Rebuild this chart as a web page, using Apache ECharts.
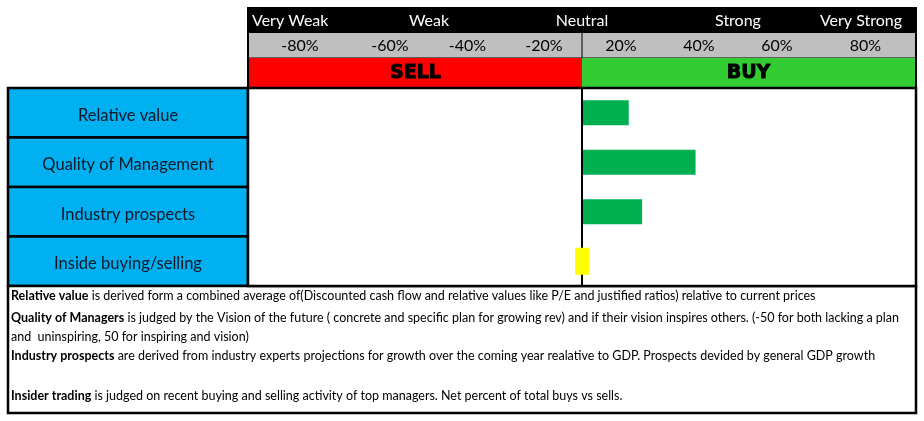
<!DOCTYPE html>
<html><head><meta charset="utf-8">
<script src="https://cdn.jsdelivr.net/npm/echarts@6/dist/echarts.min.js"></script>
<style>html,body{margin:0;padding:0;background:#fff}#c{width:924px;height:421px}</style>
</head><body><div id="c"></div>
<script>
// ---- data ----
const categories = ['Relative value', 'Quality of Management', 'Industry prospects', 'Inside buying/selling'];
const buyScores = [14, 34, 18, null];
const insiderScores = [null, null, null, 0];
const strengthLabels = ['Very Weak', 'Weak', 'Neutral', 'Strong', 'Very Strong'];
const percentLabels = ['-80%', '-60%', '-40%', '-20%', '20%', '40%', '60%', '80%'];
const signalLabels = ['SELL', 'BUY'];
const noteTerms = ['Relative value', 'Quality of Managers', 'Industry prospects', 'Insider trading'];
const noteTexts = [
  ' is derived form a combined average of(Discounted cash flow and relative values like P/E and justified ratios) relative to current prices',
  ' is judged by the Vision of the future ( concrete and specific plan for growing rev) and if their vision inspires others. (-50 for both lacking a plan\nand  uninspiring, 50 for inspiring and vision)',
  ' are derived from industry experts projections for growth over the coming year realative to GDP. Prospects devided by general GDP growth',
  ' is judged on recent buying and selling activity of top managers. Net percent of total buys vs sells.'
];

// ---- layout ----
const FONT = 'Lato, "Open Sans", sans-serif';
const G = { left: 248, top: 88, right: 916, bottom: 286 };
const x0 = (G.left + G.right) / 2;
const rowH = (G.bottom - G.top) / categories.length;
const headTop = 7;
const colBounds = [249, 351, 429, 506, x0, 660, 738, 816, 915];
const strengthPos = [[252, 'left'], [429, 'center'], [x0, 'center'], [738, 'center'], [861, 'center']];
const noteY = [296, 318, 356, 396];
const NOTE_LH = 19;

const graphics = [];
// header background
graphics.push({ type: 'rect', shape: { x: 247, y: headTop, width: G.right + 1 - 247, height: G.top + 1 - headTop }, style: { fill: '#000' }, z: 0 });
graphics.push({ type: 'rect', shape: { x: 249, y: 33, width: 915 - 249, height: 24.5 }, style: { fill: '#BFBFBF' }, z: 1 });
graphics.push({ type: 'rect', shape: { x: 249, y: 58, width: x0 - 249, height: 29 }, style: { fill: '#FF0000' }, z: 1 });
graphics.push({ type: 'rect', shape: { x: x0, y: 58, width: 915 - x0, height: 29 }, style: { fill: '#33CC33' }, z: 1 });
graphics.push({ type: 'line', shape: { x1: x0, y1: 33, x2: x0, y2: 58 }, style: { stroke: '#000', lineWidth: 1 }, z: 2 });
strengthLabels.forEach((t, i) => {
  graphics.push({ type: 'text', x: strengthPos[i][0], y: 20.5, z: 3,
    style: { text: t, fill: '#fff', font: '16px ' + FONT, align: strengthPos[i][1], verticalAlign: 'middle' } });
});
percentLabels.forEach((t, i) => {
  graphics.push({ type: 'text', x: (colBounds[i] + colBounds[i + 1]) / 2, y: 46, z: 3,
    style: { text: t, fill: '#000', font: '16px ' + FONT, align: 'center', verticalAlign: 'middle' } });
});
signalLabels.forEach((t, i) => {
  const cx = i === 0 ? (249 + x0) / 2 : (x0 + 915) / 2;
  graphics.push({ type: 'text', x: cx, y: 73, z: 3,
    style: { text: t, fill: '#000', stroke: '#000', lineWidth: 0.9,
      font: 'bold 19px "DejaVu Sans", sans-serif', align: 'center', verticalAlign: 'middle' } });
});
// category boxes
categories.forEach((c, i) => {
  graphics.push({ type: 'rect', z: 1, shape: { x: 8, y: G.top + i * rowH, width: G.left - 8, height: rowH },
    style: { fill: '#00B0F0', stroke: '#000', lineWidth: 2.5 } });
});
// notes box
graphics.push({ type: 'rect', z: 1, shape: { x: 8, y: G.bottom, width: G.right - 8, height: 413 - G.bottom },
  style: { fill: '#fff', stroke: '#000', lineWidth: 2.5 } });
noteTerms.forEach((term, i) => {
  graphics.push({ type: 'text', x: 11, y: noteY[i] - NOTE_LH / 2, z: 3,
    style: {
      text: '{b|' + term + '}{n|' + noteTexts[i].replace('\n', '}\n{n|') + '}',
      verticalAlign: 'top', align: 'left',
      rich: {
        b: { fontFamily: FONT, fontSize: 12.5, fontWeight: 'bold', fill: '#000', lineHeight: NOTE_LH },
        n: { fontFamily: FONT, fontSize: 12.5, fill: '#000', lineHeight: NOTE_LH }
      }
    } });
});

const chart = echarts.init(document.getElementById('c'));
chart.setOption({
  animation: false,
  grid: { left: G.left, top: G.top, width: G.right - G.left, height: G.bottom - G.top,
    show: true, borderColor: '#000', borderWidth: 2.5, backgroundColor: '#fff', z: 2 },
  xAxis: { type: 'value', min: -100, max: 100, show: false, splitLine: { show: false } },
  yAxis: {
    type: 'category', data: categories, inverse: true, z: 10,
    axisLine: { show: false }, axisTick: { show: false }, splitLine: { show: false },
    axisLabel: { margin: G.left - 128, align: 'center', fontFamily: FONT, fontSize: 16.5, color: '#111827',
      formatter: v => '{t|' + v + '}',
      rich: { t: { fontFamily: FONT, fontSize: 16.5, color: '#111827', padding: [5, 0, 0, 0] } } }
  },
  series: [
    { type: 'bar', data: buyScores, barWidth: 25, itemStyle: { color: '#00B050' }, z: 3,
      markLine: { silent: true, symbol: 'none', label: { show: false },
        lineStyle: { color: '#000', width: 2, type: 'solid' }, data: [{ xAxis: 0 }] } },
    { type: 'scatter', data: insiderScores, symbol: 'rect', symbolSize: [14, 27],
      itemStyle: { color: '#FFFF00', opacity: 1 }, z: 6 }
  ],
  graphic: graphics
});
</script></body></html>
